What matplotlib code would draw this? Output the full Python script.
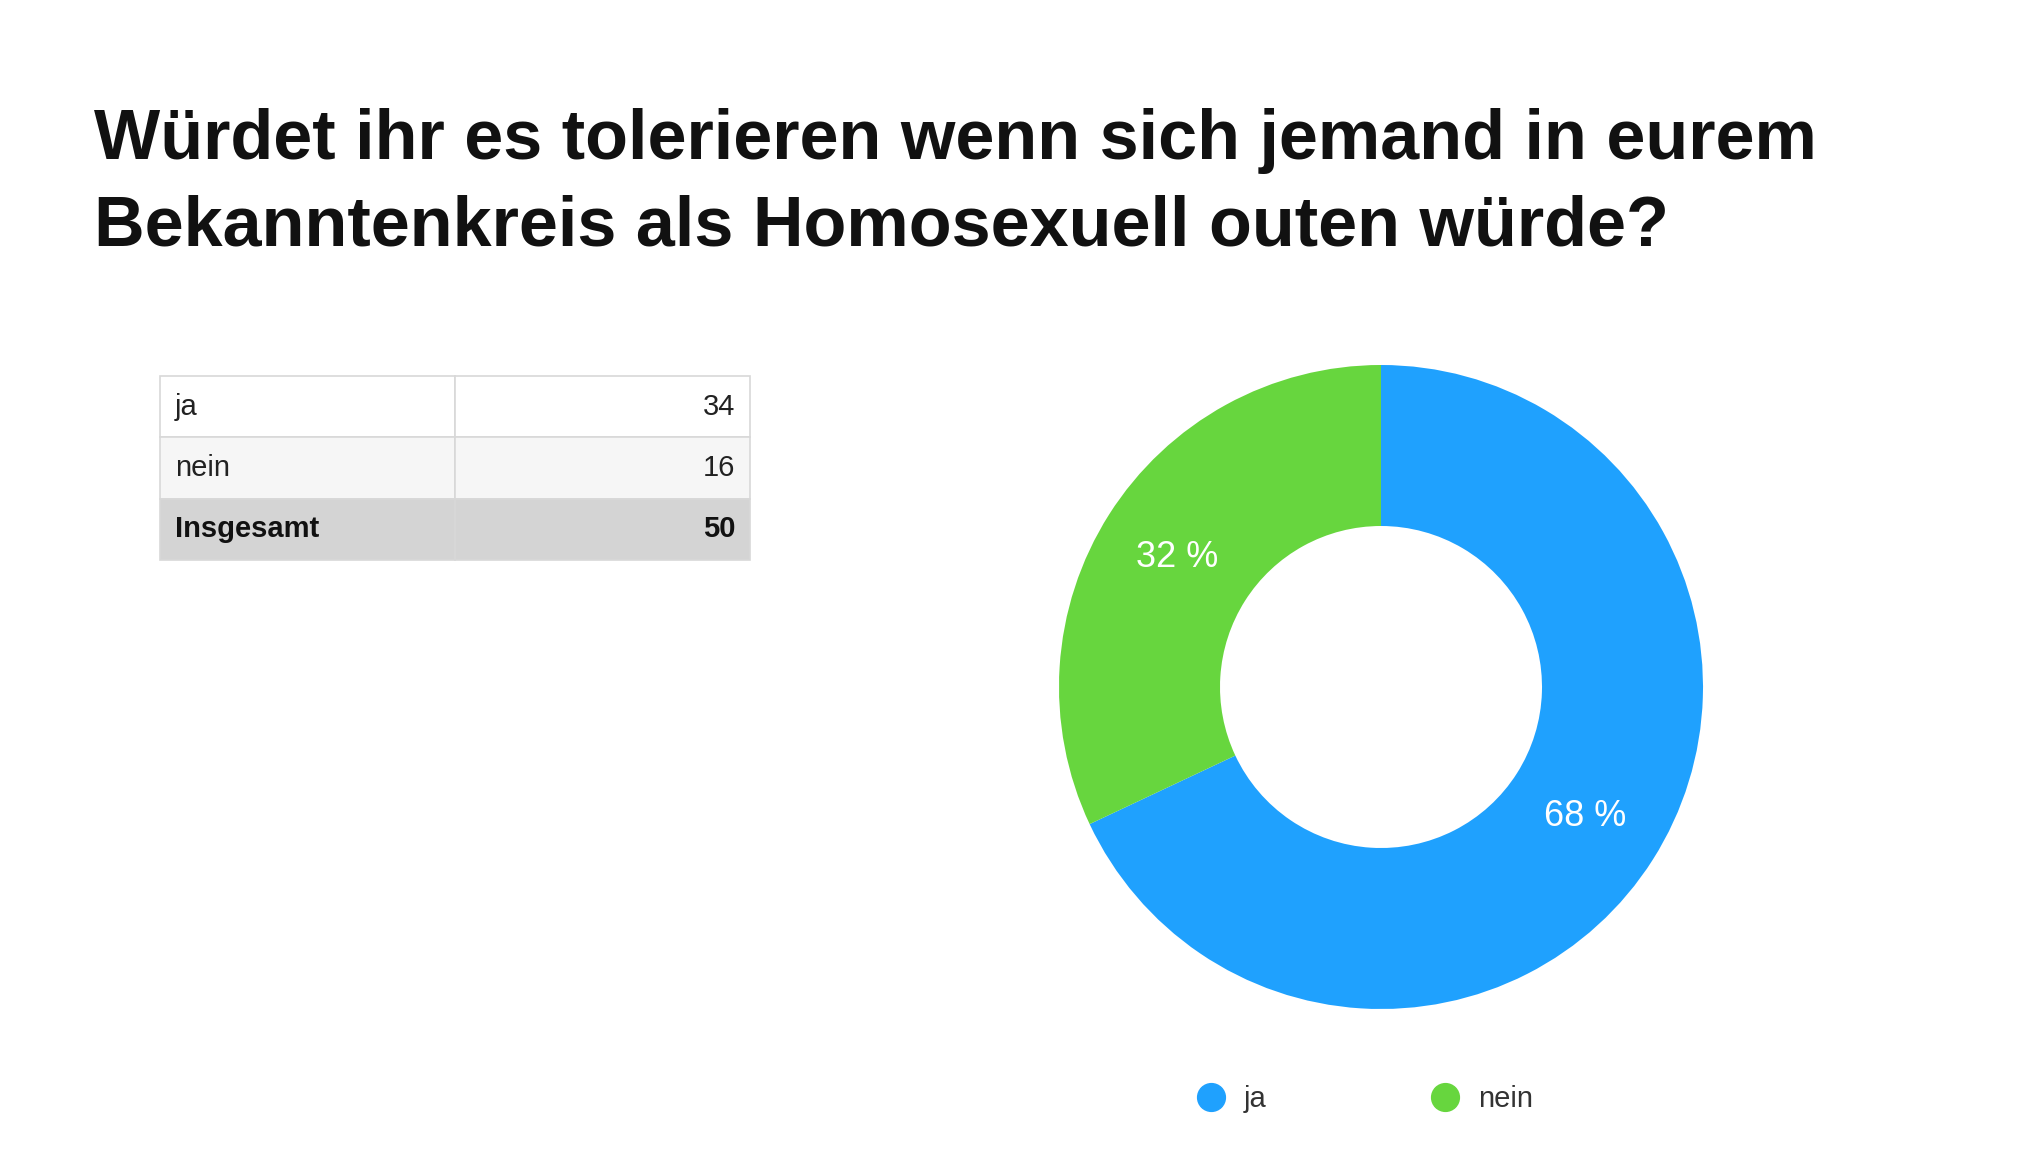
import numpy as np
import matplotlib
matplotlib.use("Agg")
import matplotlib.pyplot as plt
from matplotlib.lines import Line2D

plt.rcParams['font.family'] = ['Liberation Sans', 'DejaVu Sans']

# daten
antworten = ["ja", "nein"]
anzahl = [34, 16]
gesamt_label = "Insgesamt"
farben = ["#1fa1fe", "#67d63e"]
titel_zeile1 = "Würdet ihr es tolerieren wenn sich jemand in eurem"
titel_zeile2 = "Bekanntenkreis als Homosexuell outen würde?"

W, H = 2041, 1170
fig = plt.figure(figsize=(W / 100, H / 100), dpi=100)
fig.patch.set_facecolor("white")

# titel
fig.text(94 / W, 1 - 159 / H, titel_zeile1, fontsize=50.5, fontweight="bold",
         color="#111111", ha="left", va="baseline")
fig.text(94 / W, 1 - 245 / H, titel_zeile2, fontsize=50.5, fontweight="bold",
         color="#111111", ha="left", va="baseline")

# tabelle
tab_ax = fig.add_axes([160 / W, 1 - 560 / H, 590 / W, 184 / H])
tab_ax.axis("off")
zeilen = [[a, str(n)] for a, n in zip(antworten, anzahl)]
zeilen.append([gesamt_label, str(sum(anzahl))])
zell_farben = [["#ffffff", "#ffffff"], ["#f6f6f6", "#f6f6f6"], ["#d4d4d4", "#d4d4d4"]]
tab = tab_ax.table(cellText=zeilen, cellColours=zell_farben, bbox=[0, 0, 1, 1])
tab.auto_set_font_size(False)
for (r, c), cell in tab.get_celld().items():
    cell.set_edgecolor("#d8d8d8")
    cell.set_linewidth(1.2)
    cell.PAD = 0.05
    cell.get_text().set_fontsize(21)
    cell.get_text().set_color("#222222")
    cell.get_text().set_ha("left" if c == 0 else "right")
    cell._loc = "left" if c == 0 else "right"
    if r == 2:
        cell.get_text().set_fontweight("bold")
        cell.get_text().set_color("#111111")

# donut
cx, cy, R = 1381, 687, 322
ax = fig.add_axes([(cx - R) / W, (H - cy - R) / H, 2 * R / W, 2 * R / H])
wedges, texts, autotexts = ax.pie(
    anzahl, colors=farben, startangle=90, counterclock=False, radius=1,
    wedgeprops=dict(width=0.5, linewidth=0), pctdistance=0.75,
    autopct=lambda p: "%d %%" % round(p),
    textprops=dict(color="white", fontsize=26))
ax.set_xlim(-1, 1)
ax.set_ylim(-1, 1)
ax.axis("off")

# legende
handles = [Line2D([0], [0], marker="o", linestyle="none", markersize=20,
                  markerfacecolor=f, markeredgecolor=f) for f in farben]
leg = fig.legend(handles, antworten, loc="center left",
                 bbox_to_anchor=(1196 / W, 1 - 1099 / H), ncol=2, frameon=False,
                 fontsize=21, handlelength=1, handletextpad=0.65,
                 columnspacing=5.6, borderpad=0, borderaxespad=0)
for t in leg.get_texts():
    t.set_color("#333333")

fig.savefig("out.png", dpi=100, facecolor="white")
